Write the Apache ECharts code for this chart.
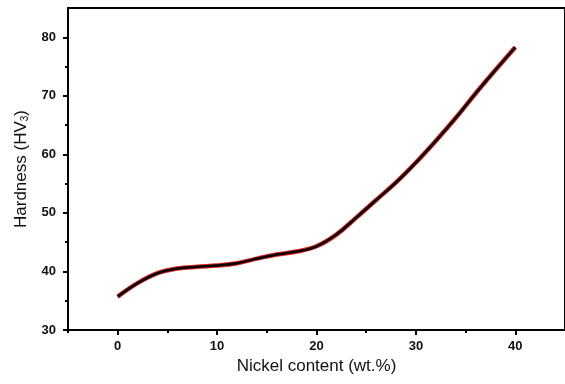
<!DOCTYPE html>
<html>
<head>
<meta charset="utf-8">
<script src="https://cdn.jsdelivr.net/npm/echarts@6/dist/echarts.min.js"></script>
<style>
  html, body { margin: 0; padding: 0; background: #fff; }
  #chart { width: 565px; height: 384px; }
</style>
</head>
<body>
<div id="chart"></div>
<script>
// nickel content (wt.%) vs hardness
var nickel = [0, 2, 4, 6, 8, 10, 12, 14, 16, 18, 20, 22, 24, 26, 28, 30, 32, 34, 36, 38, 40];
var hardness = [35.7, 38.0, 39.7, 40.5, 40.8, 41.0, 41.4, 42.2, 42.9, 43.4, 44.3, 46.3, 49.2, 52.2, 55.2, 58.6, 62.3, 66.2, 70.4, 74.4, 78.3];
var xMajor = [0, 10, 20, 30, 40];
var xMinor = [-5, 5, 15, 25, 35];
var yMajor = [30, 40, 50, 60, 70, 80];
var yMinor = [35, 45, 55, 65, 75];

var chart = echarts.init(document.getElementById('chart'));
var pts = nickel.map(function (x, i) { return [x, hardness[i]]; });
var font = 'Liberation Sans, Arial, sans-serif';

var option = {
    animation: false,
    grid: {
        left: 68, top: 8, width: 500, bottom: 54,
        show: true, borderColor: '#000', borderWidth: 2
    },
    xAxis: [{
        type: 'value', min: -5, max: 45,
        name: 'Nickel content (wt.%)',
        nameLocation: 'middle', nameGap: 25,
        nameTextStyle: { fontFamily: font, fontSize: 17, color: '#111' },
        splitLine: { show: false },
        axisLine: { onZero: false, lineStyle: { color: '#000', width: 2 } },
        axisTick: { customValues: xMajor, length: 5, lineStyle: { color: '#000', width: 2 } },
        axisLabel: {
            customValues: xMajor, margin: 10,
            fontFamily: font, fontSize: 13, fontWeight: 'bold', color: '#111'
        }
    }, {
        type: 'value', min: -5, max: 45, position: 'bottom',
        splitLine: { show: false },
        axisLine: { show: false, onZero: false },
        axisTick: { customValues: xMinor, length: 3, lineStyle: { color: '#000', width: 2 } },
        axisLabel: { show: false }
    }],
    yAxis: [{
        type: 'value', min: 30, max: 85,
        name: 'Hardness (HV{sub|3})',
        nameLocation: 'middle', nameGap: 32,
        nameTextStyle: {
            fontFamily: font, fontSize: 17, color: '#111',
            rich: { sub: { fontFamily: font, fontSize: 10, color: '#111', verticalAlign: 'bottom', padding: [8, 0, 0, 0] } }
        },
        splitLine: { show: false },
        axisLine: { onZero: false, lineStyle: { color: '#000', width: 2 } },
        axisTick: { customValues: yMajor, length: 5, lineStyle: { color: '#000', width: 2 } },
        axisLabel: {
            customValues: yMajor, margin: 12,
            fontFamily: font, fontSize: 13, fontWeight: 'bold', color: '#111'
        }
    }, {
        type: 'value', min: 30, max: 85, position: 'left',
        splitLine: { show: false },
        axisLine: { show: false, onZero: false },
        axisTick: { customValues: yMinor, length: 3, lineStyle: { color: '#000', width: 2 } },
        axisLabel: { show: false }
    }],
    series: [{
        type: 'line', data: pts, smooth: 0.4, showSymbol: false,
        lineStyle: { color: '#e0201a', width: 4.5 }
    }, {
        type: 'line', data: pts, smooth: 0.4, showSymbol: false,
        lineStyle: { color: '#000', width: 2.5 }
    }]
};
chart.setOption(option);
</script>
</body>
</html>
